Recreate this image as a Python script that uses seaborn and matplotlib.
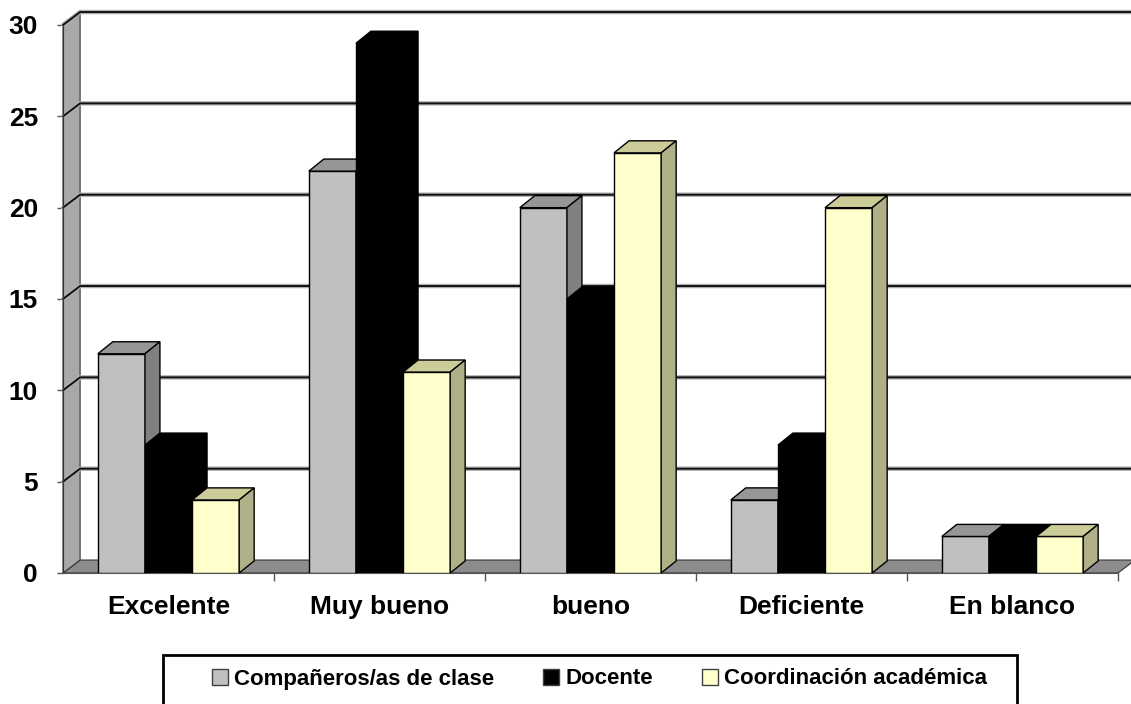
import pandas as pd
import seaborn as sns
import matplotlib.pyplot as plt
from matplotlib.patches import Polygon, Rectangle, Patch

# data
categories = ['Excelente', 'Muy bueno', 'bueno', 'Deficiente', 'En blanco']
series = ['Compañeros/as de clase', 'Docente', 'Coordinación académica']
companeros = [12, 22, 20, 4, 2]
docente = [7, 29, 15, 7, 2]
coordinacion = [4, 11, 23, 20, 2]
y_ticks = [0, 5, 10, 15, 20, 25, 30]

front_colors = ['#c0c0c0', '#000000', '#ffffcc']
top_colors = ['#969696', '#000000', '#cccc99']
side_colors = ['#808080', '#000000', '#b0b088']

df = pd.DataFrame({
    'categoria': categories * 3,
    'serie': [s for s in series for _ in categories],
    'valor': companeros + docente + coordinacion,
})

sns.set_style('white')
plt.rcParams['font.family'] = ['Liberation Sans', 'DejaVu Sans']
plt.rcParams['text.color'] = 'black'
plt.rcParams['xtick.labelcolor'] = 'black'
plt.rcParams['ytick.labelcolor'] = 'black'

fig = plt.figure(figsize=(11.31, 7.04), dpi=100)
ax = fig.add_axes([63 / 1131, 131 / 704, 1055 / 1131, 548 / 704])

sns.barplot(data=df, x='categoria', y='valor', hue='serie', hue_order=series,
            order=categories, palette=front_colors, saturation=1, width=0.67,
            edgecolor='black', linewidth=1, legend=False, ax=ax)

ax.set_xlim(-0.5, 4.5)
ax.set_ylim(0, 30)

# depth offsets (data units) for the fake 3D look
bdx, bdy = 0.071, 0.66
wdx, wdy = 0.081, 0.71

# ------------------------------
# walls, floor and gridlines
# ------------------------------
x0, x1 = ax.get_xlim()
floor = Polygon([(x0, 0), (x1, 0), (x1 + wdx, wdy), (x0 + wdx, wdy)],
                facecolor='#8c8c8c', edgecolor='#333333', lw=0.8,
                zorder=1, clip_on=False)
ax.add_patch(floor)
wall = Polygon([(x0, 0), (x0 + wdx, wdy), (x0 + wdx, 30 + wdy), (x0, 30)],
               facecolor='#a8a8a8', edgecolor='#333333', lw=0.8,
               zorder=1, clip_on=False)
ax.add_patch(wall)
for v in y_ticks[1:]:
    ax.plot([x0, x0 + wdx, x1 + wdx + 0.2], [v, v + wdy, v + wdy],
            color='#b0b0b0', lw=3.2, zorder=1.4, clip_on=False)
    ax.plot([x0, x0 + wdx, x1 + wdx + 0.2], [v, v + wdy, v + wdy],
            color='#111111', lw=1.4, zorder=1.5, clip_on=False)

# ------------------------------
# 3D faces on each bar
# ------------------------------
for j, cont in enumerate(ax.containers):
    for bar in cont:
        bar.set_zorder(3 + j * 0.1)
        bx, bw, bh = bar.get_x(), bar.get_width(), bar.get_height()
        top = Polygon([(bx, bh), (bx + bw, bh), (bx + bw + bdx, bh + bdy), (bx + bdx, bh + bdy)],
                      facecolor=top_colors[j], edgecolor='black', lw=1,
                      zorder=3 + j * 0.1, clip_on=False)
        side = Polygon([(bx + bw, 0), (bx + bw + bdx, bdy), (bx + bw + bdx, bh + bdy), (bx + bw, bh)],
                       facecolor=side_colors[j], edgecolor='black', lw=1,
                       zorder=3 + j * 0.1, clip_on=False)
        ax.add_patch(top)
        ax.add_patch(side)

# ------------------------------
# axes and ticks
# ------------------------------
for s in ['top', 'right']:
    ax.spines[s].set_visible(False)
ax.spines['left'].set_color('#333333')
ax.spines['bottom'].set_color('#555555')
ax.spines['left'].set_zorder(2)

ax.set_yticks(y_ticks)
ax.set_xticks(range(len(categories)))
ax.set_xticklabels(categories)
ax.set_xticks([i + 0.5 for i in range(len(categories))], minor=True)
ax.tick_params(axis='y', length=4, width=1, color='#555555', pad=14,
               labelsize=19, left=True)
ax.tick_params(axis='x', which='major', length=0, pad=16, labelsize=19)
ax.tick_params(axis='x', which='minor', length=6, width=1, color='#555555', bottom=True)
for lab in ax.get_xticklabels() + ax.get_yticklabels():
    lab.set_fontweight('bold')
ax.set_xlabel('')
ax.set_ylabel('')

# ------------------------------
# legend
# ------------------------------
frame = Rectangle((163 / 1131, -0.05), (1017 - 163) / 1131, (704 - 655) / 704 + 0.05,
                  transform=fig.transFigure, fill=False, edgecolor='black', lw=2)
fig.patches.append(frame)
handles = [Patch(facecolor=c, edgecolor='#404040') for c in front_colors]
fig.legend(handles, series, loc='center left', bbox_to_anchor=(192 / 1131, 1 - 679 / 704),
           ncol=3, frameon=False, prop={'weight': 'bold', 'size': 16},
           handlelength=0.7, handleheight=0.7, handletextpad=0.3, columnspacing=2.2)

fig.savefig('out.png', dpi=100, facecolor='white')
